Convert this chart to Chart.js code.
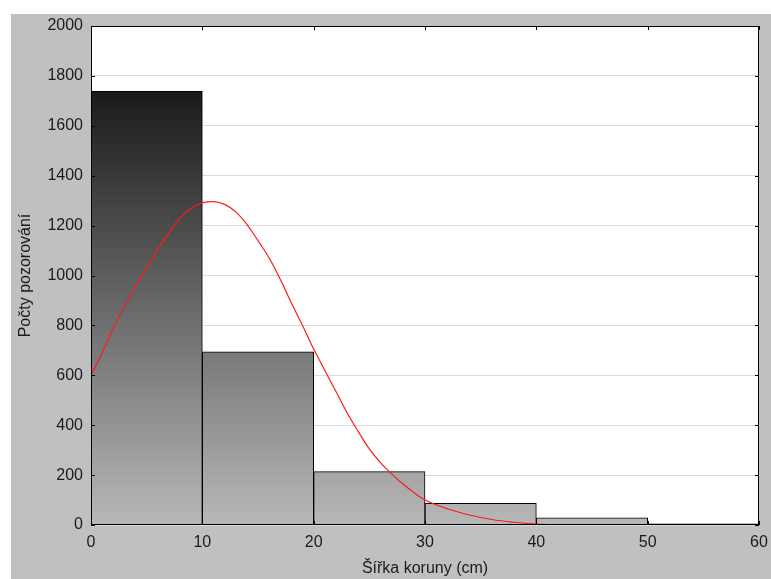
<!DOCTYPE html>
<html>
<head>
<meta charset="utf-8">
<script src="https://cdn.jsdelivr.net/npm/chart.js"></script>
<style>
  body { margin: 0; background: #fff; }
  #wrap { position: absolute; left: 11px; top: 14px; width: 760px; height: 565px; background: #c0c0c0; }
</style>
</head>
<body>
<div id="wrap"><canvas id="chart1" width="760" height="565"></canvas></div>
<script>
// histogram bins (bin centre) and counts
var binCenters = [5, 15, 25, 35, 45, 55];
var counts = [1738, 694, 214, 87, 29, 5];

// fitted curve
var curveX = [0, 1, 2, 3, 4, 5, 6, 7, 8, 9, 10, 11, 12, 13, 14, 15, 16, 17, 18, 19, 20,
  21, 22, 23, 24, 25, 26, 27, 28, 29, 30, 32, 34, 36, 38, 40, 41];
var curveY = [600, 690, 790, 875, 955, 1030, 1105, 1170, 1232, 1270, 1291, 1296, 1285, 1255, 1205, 1140, 1070, 985, 890, 800, 705,
  620, 535, 450, 375, 305, 250, 205, 165, 130, 100, 65, 40, 22, 11, 4, 2];

var xTicks = [0, 10, 20, 30, 40, 50, 60];
var yTicks = [0, 200, 400, 600, 800, 1000, 1200, 1400, 1600, 1800, 2000];

var frame = {
  id: 'frame',
  beforeDraw(chart) {
    const ctx = chart.ctx, a = chart.chartArea;
    ctx.save();
    ctx.fillStyle = '#fff';
    ctx.fillRect(a.left, a.top, a.right - a.left, a.bottom - a.top);
    ctx.restore();
  },
  afterDatasetsDraw(chart) {
    const ctx = chart.ctx, a = chart.chartArea;
    const xs = chart.scales.x, ys = chart.scales.y;
    ctx.save();
    ctx.strokeStyle = '#000';
    ctx.lineWidth = 1;
    ctx.strokeRect(Math.round(a.left) + 0.5, Math.round(a.top) + 0.5, Math.round(a.right - a.left) - 1, Math.round(a.bottom - a.top) - 1);
    ctx.beginPath();
    yTicks.forEach(v => {
      const y = Math.round(ys.getPixelForValue(v)) + 0.5;
      ctx.moveTo(a.left, y); ctx.lineTo(a.left + 4, y);
      ctx.moveTo(a.right, y); ctx.lineTo(a.right - 4, y);
    });
    xTicks.forEach(v => {
      const x = Math.round(xs.getPixelForValue(v)) + 0.5;
      ctx.moveTo(x, a.bottom); ctx.lineTo(x, a.bottom - 4);
      ctx.moveTo(x, a.top); ctx.lineTo(x, a.top + 4);
    });
    ctx.stroke();
    ctx.restore();
  }
};

function barFill(context) {
  const chart = context.chart;
  const a = chart.chartArea;
  if (!a) return '#777';
  const ys = chart.scales.y;
  const g = chart.ctx.createLinearGradient(0, ys.getPixelForValue(counts[0]), 0, ys.getPixelForValue(0));
  g.addColorStop(0, '#1a1a1a');
  g.addColorStop(1, '#b8b8b8');
  return g;
}

Chart.defaults.font.family = '"Liberation Sans", Arial, sans-serif';
Chart.defaults.font.size = 16;
Chart.defaults.color = '#1a1a22';

var chartHist = new Chart(document.getElementById('chart1'), {
  type: 'bar',
  data: {
    datasets: [{
      type: 'line',
      label: 'Normal',
      data: curveX.map((x, i) => ({x: x, y: curveY[i]})),
      borderColor: '#ff1a1a',
      borderWidth: 1.2,
      pointRadius: 0,
      tension: 0.4,
      order: 0
    }, {
      label: 'Počty',
      data: binCenters.map((x, i) => ({x: x, y: counts[i]})),
      backgroundColor: barFill,
      borderColor: '#000',
      borderWidth: 1,
      barPercentage: 1,
      categoryPercentage: 1,
      order: 1
    }]
  },
  options: {
    responsive: false,
    animation: false,
    layout: {padding: {left: 0, top: 12, right: 12, bottom: 0}},
    scales: {
      x: {
        type: 'linear',
        min: 0, max: 60,
        offset: false,
        afterFit: s => { s.height = 54; s.paddingLeft = 0; s.paddingRight = 0; },
        afterBuildTicks: s => { s.ticks = xTicks.map(v => ({value: v})); },
        grid: {display: false, drawTicks: false},
        border: {display: false},
        ticks: {padding: 8, maxRotation: 0, autoSkip: false, callback: v => String(v)},
        title: {display: true, text: 'Šířka koruny (cm)', padding: {top: 0, bottom: 1}}
      },
      y: {
        min: 0, max: 2000,
        afterFit: s => { s.width = 80; s.paddingTop = 0; s.paddingBottom = 0; },
        afterBuildTicks: s => { s.ticks = yTicks.map(v => ({value: v})); },
        grid: {color: '#dadada', drawTicks: false},
        border: {display: false},
        ticks: {padding: 8, callback: v => String(v)},
        title: {display: true, text: 'Počty pozorování', padding: {top: 5, bottom: 0}}
      }
    },
    plugins: {
      legend: {display: false},
      tooltip: {enabled: false}
    }
  },
  plugins: [frame]
});
</script>
</body>
</html>
